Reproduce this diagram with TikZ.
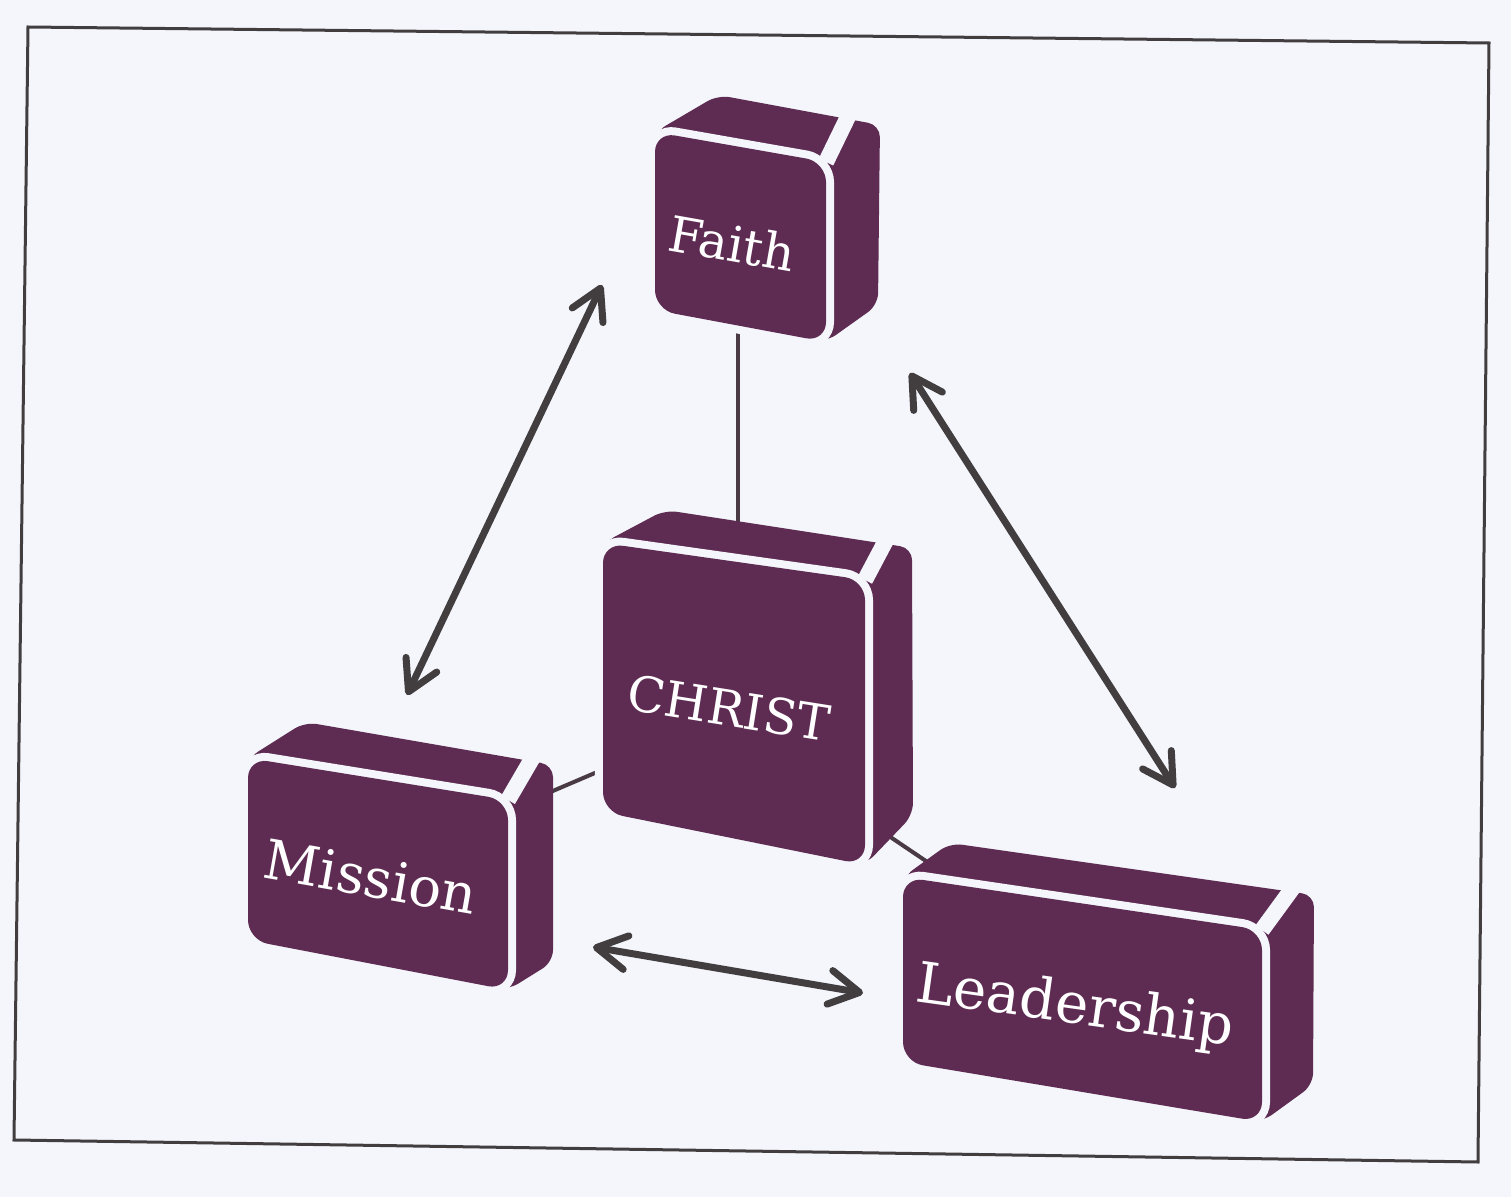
\documentclass[tikz,border=0pt]{standalone}
\usepackage{fontspec}
\setmainfont{DejaVu Serif}
\usetikzlibrary{arrows.meta}

\definecolor{plum}{RGB}{94,44,82}
\definecolor{paper}{RGB}{244,246,251}
\definecolor{ink}{RGB}{66,62,64}

\tikzset{
    gap line/.style={draw=paper, line width=0.16cm},
    label text/.style={text=white, inner sep=0},
    link/.style={draw=ink!75!plum, line width=0.04cm},
    twoway/.style={draw=ink, line width=0.07cm, line cap=round,
        {Straight Barb[round,length=0.3cm,width=0.34cm]}-{Straight Barb[round,length=0.3cm,width=0.34cm]}}
    }

% block: front TL, TR, BR, BL, back TL, back TR, back BR, gap end
\newcommand\pblock[8]{%
    \fill[plum, rounded corners=0.12cm] #1 -- #5 -- #6 -- #7 -- #3 -- #4 -- cycle;
    \draw[gap line] #2 -- #8;
    \draw[gap line, rounded corners=0.2cm] #1 -- #2 -- #3 -- #4 -- cycle;
    \fill[plum, rounded corners=0.2cm] #1 -- #2 -- #3 -- #4 -- cycle;
}

\begin{document}
\begin{tikzpicture}[x=0.01cm, y=-0.01cm]
    \fill[paper] (0,0) rectangle (1511,1197);
    \useasboundingbox (0,0) rectangle (1511,1197);
    \draw[ink, line width=0.03cm] (28,27) -- (1489,43) -- (1478,1162) -- (14,1140) -- cycle;

    % hubs for the links
    \coordinate (faith-hub) at (738,300);
    \coordinate (christ-top) at (738,650);
    \coordinate (christ-left) at (700,728);
    \coordinate (christ-right) at (800,776);
    \coordinate (mission-hub) at (450,835);
    \coordinate (leader-hub) at (1000,911);
    \draw[link] (faith-hub) -- (christ-top);
    \draw[link] (mission-hub) -- (christ-left);
    \draw[link] (leader-hub) -- (christ-right);

    % blocks
    \pblock{(655,132)}{(826,162)}{(826,342)}{(655,310)}{(718,95)}{(880,125)}{(878,305)}{(860,92)}
    \pblock{(603,543)}{(865,580)}{(865,865)}{(603,812)}{(665,510)}{(912,548)}{(913,815)}{(893,527)}
    \pblock{(248,758)}{(508,800)}{(508,990)}{(248,940)}{(305,722)}{(553,765)}{(553,962)}{(540,745)}
    \pblock{(903,877)}{(1262,930)}{(1262,1122)}{(903,1062)}{(950,843)}{(1314,895)}{(1313,1085)}{(1300,878)}

    % labels
    \node[label text, rotate=-10, font=\fontsize{14}{16}\selectfont] (faith) at (732,243) {Faith};
    \node[label text, rotate=-9, font=\fontsize{14}{16}\selectfont] (christ) at (729,708) {CHRIST};
    \node[label text, rotate=-10, font=\fontsize{15.5}{18}\selectfont] (mission) at (371,877) {Mission};
    \node[label text, rotate=-8, font=\fontsize{16}{18}\selectfont] (leadership) at (1075,1008) {Leadership};

    % arrows
    \coordinate (fm-a) at (602,285);
    \coordinate (fm-b) at (407,695);
    \coordinate (fl-a) at (910,373);
    \coordinate (fl-b) at (1175,788);
    \coordinate (ml-a) at (593,947);
    \coordinate (ml-b) at (863,993);
    \draw[twoway] (fm-a) -- (fm-b);
    \draw[twoway] (fl-a) -- (fl-b);
    \draw[twoway] (ml-a) -- (ml-b);
\end{tikzpicture}
\end{document}
